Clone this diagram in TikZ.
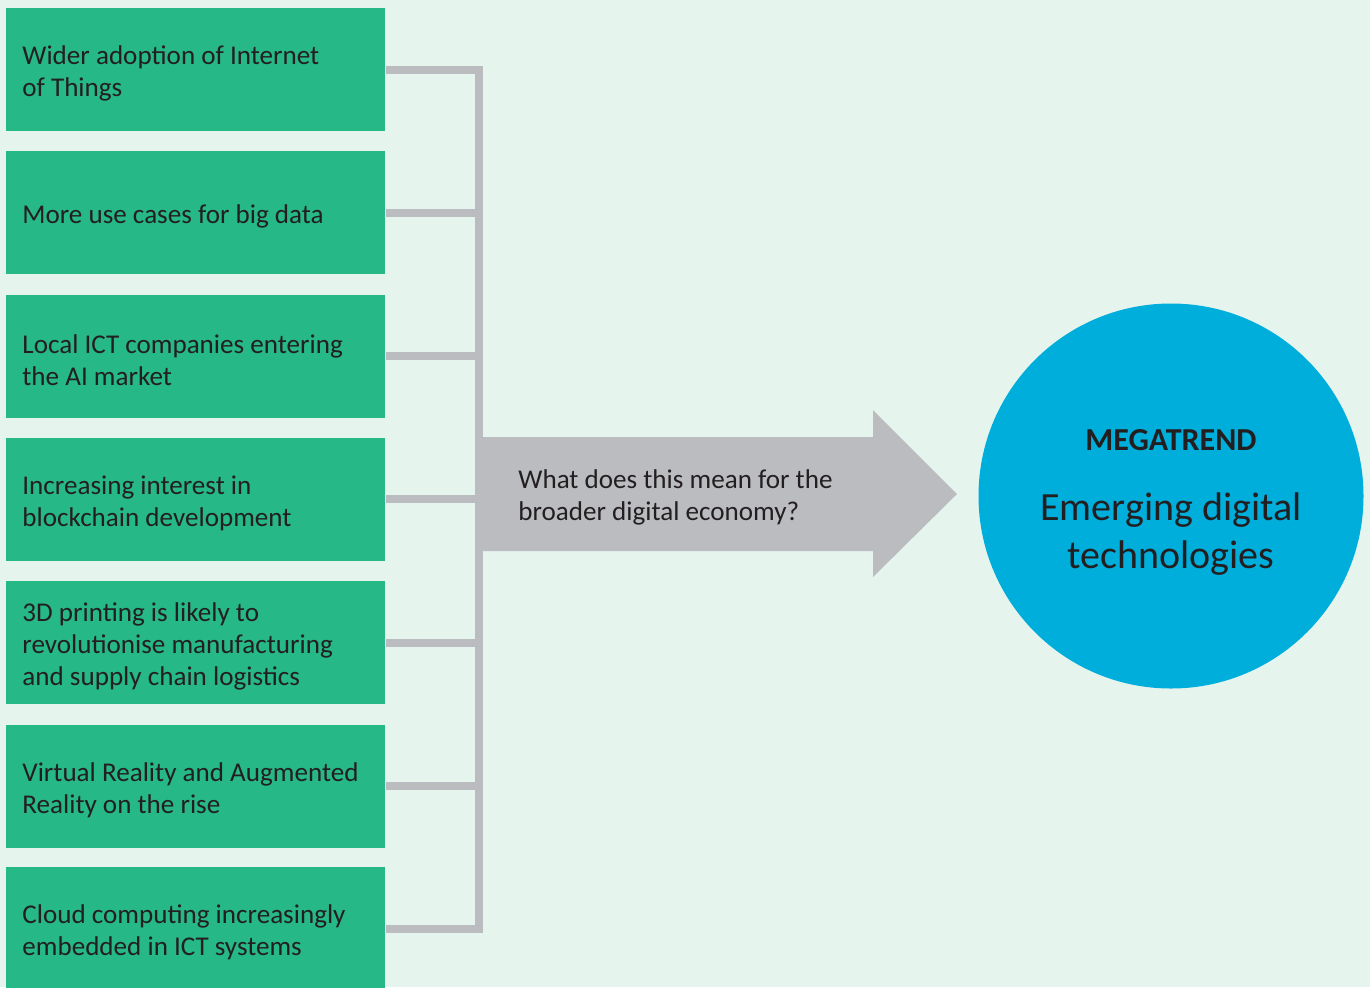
\documentclass[tikz,border=0pt]{standalone}
\usepackage{fontspec}
\setmainfont{Carlito}
\usepackage{tikz}
\usetikzlibrary{positioning}

\definecolor{bgmint}{HTML}{E6F4EE}
\definecolor{trendgreen}{HTML}{26B886}
\definecolor{linkgrey}{HTML}{BBBCC0}
\definecolor{megablue}{HTML}{00AEDB}
\definecolor{inkdark}{HTML}{231F20}

\begin{document}
\begin{tikzpicture}[x=0.5pt, y=-0.5pt,
    trend/.style={fill=trendgreen, anchor=west, inner sep=0pt,
      minimum width=189.5pt, minimum height=61.5pt},
    note/.style={text=inkdark, align=left, inner sep=0pt,
      font=\fontsize{13.55}{16}\selectfont},
    link/.style={draw=linkgrey, line width=4pt}
  ]
    \useasboundingbox[fill=bgmint] (0,0) rectangle (1370,987);

    % drivers on the left
    \foreach \n/\y/\txt in {
        1/69.5/{Wider adoption of Internet\\of Things},
        2/212.8/{More use cases for big data},
        3/356.1/{Local ICT companies entering\\the AI market},
        4/499.4/{Increasing interest in\\blockchain development},
        5/642.7/{3D printing is likely to\\revolutionise manufacturing\\and supply chain logistics},
        6/786/{Virtual Reality and Augmented\\Reality on the rise},
        7/928.5/{Cloud computing increasingly\\embedded in ICT systems}} {
      \node[trend] (b\n) at (6,\y) {};
      \node[note, anchor=west] (t\n) at ([xshift=8pt, yshift=-2pt]b\n.west)
        {\txt};
    }

    % collecting bracket
    \coordinate (spine) at (479,494);
    \draw[link] (b1.east) -| (spine) |- (b7.east);
    \foreach \n in {2,...,6} {
      \draw[link] (b\n.east) -- (b\n.east -| spine);
    }

    % big arrow
    \fill[linkgrey] (481,437) -- (873,437) -- (873,410) -- (957,494)
      -- (873,577) -- (873,551) -- (481,551) -- cycle;
    \node[note, anchor=west] (ask) at (518,497)
      {What does this mean for the\\broader digital economy?};

    % megatrend
    \node[circle, fill=megablue, minimum size=192.5pt, inner sep=0pt]
      (mega) at (1171,496) {};
    \node[text=inkdark, font=\fontsize{16}{19}\selectfont\bfseries]
      (megatag) at (1171,440) {MEGATREND};
    \node[text=inkdark, align=center, inner sep=0pt,
      font=\fontsize{20}{24}\selectfont] (meganame) at (1171,534)
      {Emerging digital\\technologies};
\end{tikzpicture}
\end{document}
